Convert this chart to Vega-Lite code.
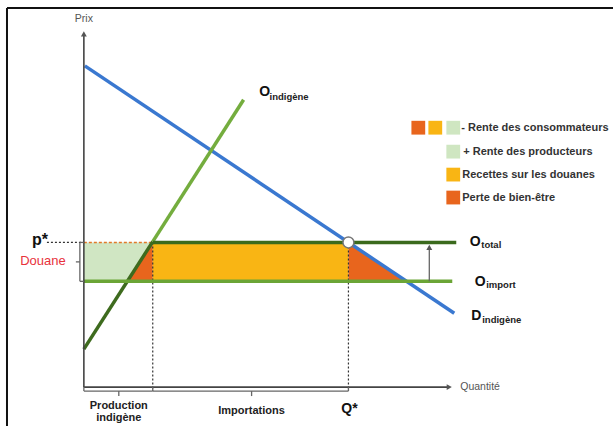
{
  "$schema": "https://vega.github.io/schema/vega-lite/v6.json",
  "width": 614,
  "height": 427,
  "autosize": {"type": "fit", "contains": "padding"},
  "padding": 0,
  "background": "white",
  "config": {"view": {"stroke": null}, "font": "Liberation Sans"},
  "datasets": {
    "zones": [
      {"zone": "producteurs", "p": 106, "q": 0, "q2": 43.5},
      {"zone": "producteurs", "p": 145, "q": 0, "q2": 69},
      {"zone": "perte1", "p": 106, "q": 43.5, "q2": 69},
      {"zone": "perte1", "p": 145, "q": 69, "q2": 69},
      {"zone": "douanes", "p": 106, "q": 69, "q2": 265},
      {"zone": "douanes", "p": 145, "q": 69, "q2": 265},
      {"zone": "perte2", "p": 106, "q": 265, "q2": 323},
      {"zone": "perte2", "p": 145, "q": 265, "q2": 265}
    ],
    "courbes": [
      {"courbe": "D", "q": 1, "p": 322, "q2": 371, "p2": 74},
      {"courbe": "O_bas", "q": 0, "p": 38, "q2": 69, "p2": 145.8},
      {"courbe": "O_haut", "q": 69, "p": 145.8, "q2": 160, "p2": 288},
      {"courbe": "O_total", "q": 69, "p": 145, "q2": 373, "p2": 145},
      {"courbe": "O_import", "q": 0, "p": 106, "q2": 369, "p2": 106}
    ],
    "axes": [
      {"q": 0, "p": 0, "q2": 0, "p2": 353},
      {"q": 0, "p": 0, "q2": 364, "p2": 0}
    ],
    "accolades": [
      {"q": 0, "p": -4, "q2": 69, "p2": -4},
      {"q": 0, "p": -4, "q2": 0, "p2": 0},
      {"q": 69, "p": -4, "q2": 69, "p2": 0},
      {"q": 35, "p": -4, "q2": 35, "p2": -9},
      {"q": 69, "p": -4, "q2": 265, "p2": -4},
      {"q": 265, "p": -4, "q2": 265, "p2": 0},
      {"q": 168, "p": -4, "q2": 168, "p2": -9},
      {"q": -4, "p": 106, "q2": -4, "p2": 145},
      {"q": -4, "p": 106, "q2": 0, "p2": 106},
      {"q": -4, "p": 145, "q2": 0, "p2": 145},
      {"q": -4, "p": 125.5, "q2": -8, "p2": 125.5},
      {"q": 346, "p": 106, "q2": 346, "p2": 140}
    ],
    "pointilles": [
      {"q": 69, "p": 145, "q2": 69, "p2": -4},
      {"q": 265, "p": 145, "q2": 265, "p2": -4},
      {"q": -37, "p": 145, "q2": 0, "p2": 145}
    ],
    "tirets": [{"q": 0, "p": 145, "q2": 69, "p2": 145}],
    "cadre": [
      {"q": -77, "p": 380, "q2": 530, "p2": 380},
      {"q": -77, "p": 380, "q2": -77, "p2": -39}
    ],
    "fleches_haut": [{"q": 0, "p": 354}, {"q": 346, "p": 140}],
    "fleches_droite": [{"q": 366, "p": 0}],
    "equilibre": [{"q": 265, "p": 145}],
    "legende_carres": [
      {"zone": "perte", "q": 335, "p": 260},
      {"zone": "douanes", "q": 352, "p": 260},
      {"zone": "producteurs", "q": 370, "p": 260},
      {"zone": "producteurs", "q": 370, "p": 236},
      {"zone": "douanes", "q": 370, "p": 213},
      {"zone": "perte", "q": 370, "p": 190}
    ],
    "legende_textes": [
      {"t": "- Rente des consommateurs", "q": 378, "p": 260},
      {"t": "+ Rente des producteurs", "q": 380, "p": 236},
      {"t": "Recettes sur les douanes", "q": 379, "p": 213},
      {"t": "Perte de bien-être", "q": 379, "p": 190}
    ],
    "grandes_lettres": [
      {"t": "O", "q": 181, "p": 296},
      {"t": "O", "q": 392, "p": 145},
      {"t": "O", "q": 397, "p": 105},
      {"t": "D", "q": 393, "p": 71},
      {"t": "Q*", "q": 266, "p": -22}
    ],
    "pstar": [{"t": "p*", "q": -44, "p": 147}],
    "indices": [
      {"t": "indigène", "q": 186, "p": 291},
      {"t": "total", "q": 398, "p": 142},
      {"t": "import", "q": 403, "p": 102},
      {"t": "indigène", "q": 399, "p": 67}
    ],
    "etiquettes_bas": [
      {"t": "Production", "q": 35, "p": -19},
      {"t": "indigène", "q": 35, "p": -31},
      {"t": "Importations", "q": 168, "p": -24}
    ],
    "nom_prix": [{"t": "Prix", "q": 0, "p": 369}],
    "nom_quantite": [{"t": "Quantité", "q": 377, "p": 0}],
    "douane": [{"t": "Douane", "q": -41, "p": 126}]
  },
  "encoding": {
    "x": {"field": "q", "type": "quantitative", "scale": {"domain": [-84, 530], "nice": false, "zero": false}, "axis": null},
    "y": {"field": "p", "type": "quantitative", "scale": {"domain": [-39, 388], "nice": false, "zero": false}, "axis": null}
  },
  "layer": [
    {
      "data": {"name": "zones"},
      "mark": {"type": "area", "orient": "horizontal", "opacity": 1},
      "encoding": {
        "x2": {"field": "q2"},
        "color": {"field": "zone", "type": "nominal", "scale": {"domain": ["producteurs", "perte1", "douanes", "perte2"], "range": ["#d0e6c3", "#e8651d", "#f9b514", "#e8651d"]}, "legend": null}
      }
    },
    {
      "data": {"name": "tirets"},
      "mark": {"type": "rule", "color": "#e07a2a", "strokeWidth": 1.5, "strokeDash": [3, 2]},
      "encoding": {"x2": {"field": "q2"}, "y2": {"field": "p2"}}
    },
    {
      "data": {"name": "pointilles"},
      "mark": {"type": "rule", "color": "#333333", "strokeWidth": 1.2, "strokeDash": [2, 2]},
      "encoding": {"x2": {"field": "q2"}, "y2": {"field": "p2"}}
    },
    {
      "data": {"name": "courbes"},
      "mark": {"type": "rule", "strokeWidth": 3.5},
      "encoding": {
        "x2": {"field": "q2"},
        "y2": {"field": "p2"},
        "color": {"field": "courbe", "type": "nominal", "scale": {"domain": ["D", "O_bas", "O_haut", "O_total", "O_import"], "range": ["#3a78d0", "#3e6b1e", "#74ad3e", "#3b6a1d", "#6ba536"]}, "legend": null}
      }
    },
    {
      "data": {"name": "axes"},
      "mark": {"type": "rule", "color": "#444444", "strokeWidth": 1.6},
      "encoding": {"x2": {"field": "q2"}, "y2": {"field": "p2"}}
    },
    {
      "data": {"name": "accolades"},
      "mark": {"type": "rule", "color": "#666666", "strokeWidth": 1.3},
      "encoding": {"x2": {"field": "q2"}, "y2": {"field": "p2"}}
    },
    {
      "data": {"name": "cadre"},
      "mark": {"type": "rule", "color": "#111111", "strokeWidth": 2},
      "encoding": {"x2": {"field": "q2"}, "y2": {"field": "p2"}}
    },
    {
      "data": {"name": "fleches_haut"},
      "mark": {"type": "point", "shape": "triangle-up", "filled": true, "color": "#555555", "size": 35, "opacity": 1},
      "encoding": {}
    },
    {
      "data": {"name": "fleches_droite"},
      "mark": {"type": "point", "shape": "triangle-right", "filled": true, "color": "#555555", "size": 35, "opacity": 1},
      "encoding": {}
    },
    {
      "data": {"name": "equilibre"},
      "mark": {"type": "point", "shape": "circle", "filled": true, "fill": "white", "stroke": "#777777", "strokeWidth": 1.5, "size": 120, "opacity": 1},
      "encoding": {}
    },
    {
      "data": {"name": "legende_carres"},
      "mark": {"type": "point", "shape": "square", "filled": true, "size": 190, "opacity": 1},
      "encoding": {
        "color": {"field": "zone", "type": "nominal", "scale": {"domain": ["perte", "douanes", "producteurs"], "range": ["#e8651d", "#f9b514", "#cfe6c1"]}, "legend": null}
      }
    },
    {
      "data": {"name": "legende_textes"},
      "mark": {"type": "text", "align": "left", "baseline": "middle", "fontSize": 11, "fontWeight": "bold", "color": "#333333"},
      "encoding": {"text": {"field": "t"}}
    },
    {
      "data": {"name": "grandes_lettres"},
      "mark": {"type": "text", "align": "center", "baseline": "middle", "fontSize": 14, "fontWeight": "bold", "color": "#111111"},
      "encoding": {"text": {"field": "t"}}
    },
    {
      "data": {"name": "pstar"},
      "mark": {"type": "text", "align": "center", "baseline": "middle", "fontSize": 16, "fontWeight": "bold", "color": "#111111"},
      "encoding": {"text": {"field": "t"}}
    },
    {
      "data": {"name": "indices"},
      "mark": {"type": "text", "align": "left", "baseline": "middle", "fontSize": 9.5, "fontWeight": "bold", "color": "#222222"},
      "encoding": {"text": {"field": "t"}}
    },
    {
      "data": {"name": "etiquettes_bas"},
      "mark": {"type": "text", "align": "center", "baseline": "middle", "fontSize": 11, "fontWeight": "bold", "color": "#222222"},
      "encoding": {"text": {"field": "t"}}
    },
    {
      "data": {"name": "nom_prix"},
      "mark": {"type": "text", "align": "center", "baseline": "middle", "fontSize": 10.5, "color": "#555555"},
      "encoding": {"text": {"field": "t"}}
    },
    {
      "data": {"name": "nom_quantite"},
      "mark": {"type": "text", "align": "left", "baseline": "middle", "fontSize": 10.5, "color": "#555555"},
      "encoding": {"text": {"field": "t"}}
    },
    {
      "data": {"name": "douane"},
      "mark": {"type": "text", "align": "center", "baseline": "middle", "fontSize": 13, "color": "#e8323c"},
      "encoding": {"text": {"field": "t"}}
    }
  ],
  "resolve": {"scale": {"color": "independent"}}
}
